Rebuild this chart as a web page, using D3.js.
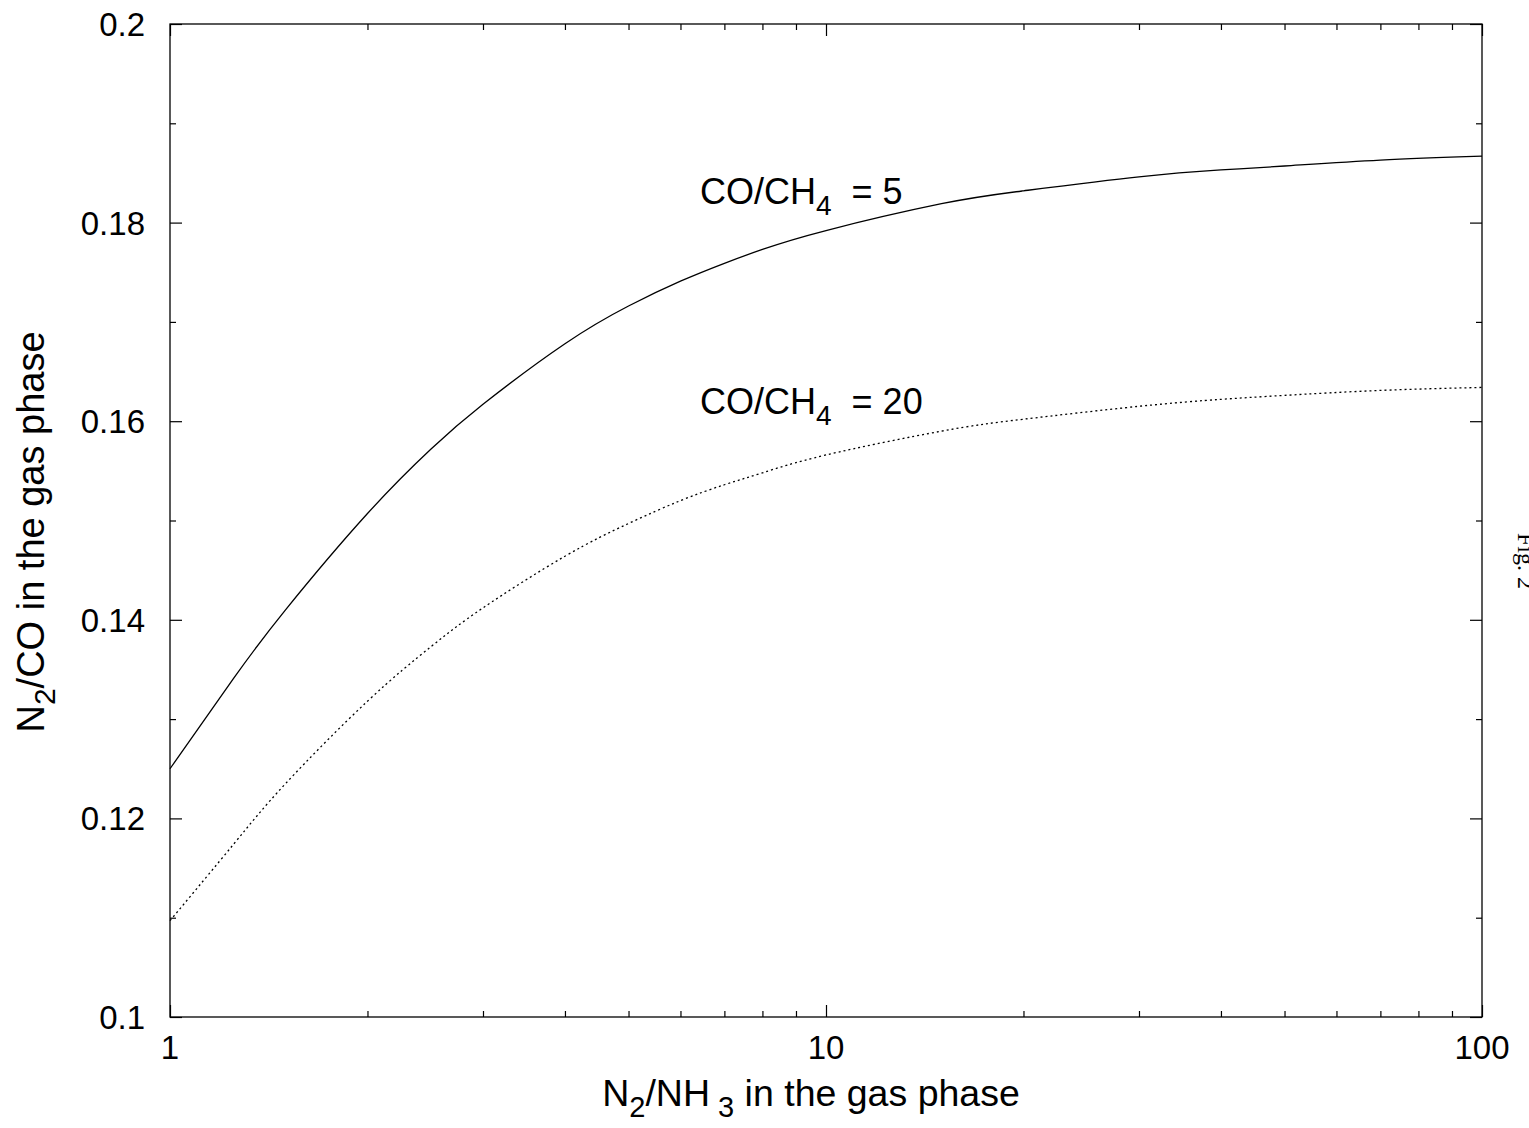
<!DOCTYPE html>
<html>
<head>
<meta charset="utf-8">
<script src="https://cdn.jsdelivr.net/npm/d3@7"></script>
<style>
  body { margin: 0; background: #fff; }
  text { font-family: "Liberation Sans", Arial, sans-serif; fill: #000; }
</style>
</head>
<body>
<div id="chart"></div>
<script>
// N2/NH3 ratio (x) and N2/CO ratio
var ratioNH3 = [1, 1.25, 1.5, 2, 2.5, 3, 4, 5, 6, 7, 8, 10, 15, 20, 30, 40, 50, 70, 100];
var coch4_5 = [0.1250, 0.1341, 0.1410, 0.1507, 0.1572, 0.1617, 0.1678, 0.1716, 0.1741, 0.1759,
               0.1773, 0.1792, 0.1819, 0.1832, 0.1846, 0.1853, 0.1857, 0.1863, 0.1867];
var coch4_20 = [0.1097, 0.1174, 0.1235, 0.1318, 0.1373, 0.1412, 0.1464, 0.1497, 0.1520, 0.1536,
                0.1548, 0.1566, 0.1590, 0.1602, 0.1615, 0.1622, 0.1626, 0.1631, 0.1634];

var xMajor = [1, 10, 100];
var xMinor = [2, 3, 4, 5, 6, 7, 8, 9, 20, 30, 40, 50, 60, 70, 80, 90];
var yMajor = [0.1, 0.12, 0.14, 0.16, 0.18, 0.2];
var yMinor = [0.11, 0.13, 0.15, 0.17, 0.19];
var yLabels = ["0.1", "0.12", "0.14", "0.16", "0.18", "0.2"];

var W = 1529, H = 1128;
var pLeft = 170, pRight = 1482, pTop = 24, pBottom = 1017;

var svg = d3.select("#chart").append("svg")
  .attr("width", W)
  .attr("height", H);

var x = d3.scaleLog().domain([1, 100]).range([pLeft, pRight]);
var y = d3.scaleLinear().domain([0.1, 0.2]).range([pBottom, pTop]);

// frame
svg.append("rect")
  .attr("x", pLeft).attr("y", pTop)
  .attr("width", pRight - pLeft).attr("height", pBottom - pTop)
  .attr("fill", "none").attr("stroke", "#000").attr("stroke-width", 1.3);

// ticks on all four sides, pointing inward
function ticks(g, axis, vals, len) {
  g.call(axis.tickValues(vals).tickSize(len).tickFormat(""));
  g.select(".domain").remove();
  g.selectAll("line").attr("stroke", "#000").attr("stroke-width", 1.2);
}
ticks(svg.append("g").attr("transform", "translate(0," + pBottom + ")"), d3.axisTop(x), xMajor, 12);
ticks(svg.append("g").attr("transform", "translate(0," + pBottom + ")"), d3.axisTop(x), xMinor, 6);
ticks(svg.append("g").attr("transform", "translate(0," + pTop + ")"), d3.axisBottom(x), xMajor, 12);
ticks(svg.append("g").attr("transform", "translate(0," + pTop + ")"), d3.axisBottom(x), xMinor, 6);
ticks(svg.append("g").attr("transform", "translate(" + pLeft + ",0)"), d3.axisRight(y), yMajor, 12);
ticks(svg.append("g").attr("transform", "translate(" + pLeft + ",0)"), d3.axisRight(y), yMinor, 6);
ticks(svg.append("g").attr("transform", "translate(" + pRight + ",0)"), d3.axisLeft(y), yMajor, 12);
ticks(svg.append("g").attr("transform", "translate(" + pRight + ",0)"), d3.axisLeft(y), yMinor, 6);

// tick labels
svg.selectAll(".xl").data(xMajor).enter().append("text")
  .attr("x", function(d){ return x(d); })
  .attr("y", 1059)
  .attr("text-anchor", "middle")
  .style("font-size", "33px")
  .text(function(d){ return d; });

svg.selectAll(".yl").data(yMajor).enter().append("text")
  .attr("x", 145)
  .attr("y", function(d){ return y(d) + 12; })
  .attr("text-anchor", "end")
  .style("font-size", "33px")
  .text(function(d, i){ return yLabels[i]; });

// curves
var curve = d3.line()
  .x(function(d, i){ return x(ratioNH3[i]); })
  .y(function(d){ return y(d); })
  .curve(d3.curveNatural);

svg.append("path")
  .attr("d", curve(coch4_5))
  .attr("fill", "none").attr("stroke", "#000").attr("stroke-width", 1.3);

svg.append("path")
  .attr("d", curve(coch4_20))
  .attr("fill", "none").attr("stroke", "#000").attr("stroke-width", 1.3)
  .attr("stroke-dasharray", "2,3");

// text with subscript parts
function label(xp, yp, size, parts) {
  var t = svg.append("text").attr("x", xp).attr("y", yp).style("font-size", size + "px");
  parts.forEach(function(p) {
    var s = t.append("tspan").text(p.t);
    if (p.sub) s.attr("dy", 11).style("font-size", Math.round(size * 0.78) + "px");
    if (p.back) s.attr("dy", -11);
  });
  return t;
}
label(700, 204, 36, [{t: "CO/CH"}, {t: "4", sub: true}, {t: "\u00a0 = 5", back: true}]);
label(700, 414, 36, [{t: "CO/CH"}, {t: "4", sub: true}, {t: "\u00a0 = 20", back: true}]);

// axis titles
label(811, 1106, 37.5, [{t: "N"}, {t: "2", sub: true}, {t: "/NH", back: true}, {t: "\u00a03", sub: true}, {t: " in the gas phase", back: true}])
  .attr("text-anchor", "middle");

var yt = svg.append("text")
  .attr("transform", "translate(44,532) rotate(-90)")
  .attr("text-anchor", "middle")
  .style("font-size", "38px");
yt.append("tspan").text("N");
yt.append("tspan").attr("dy", 11).style("font-size", "30px").text("2");
yt.append("tspan").attr("dy", -11).text("/CO in the gas phase");

// figure number on the margin
svg.append("text")
  .attr("transform", "translate(1518,533) rotate(90)")
  .style("font-family", "'Liberation Serif', 'Times New Roman', serif")
  .style("font-size", "24px")
  .text("Fig. 2");
</script>
</body>
</html>
